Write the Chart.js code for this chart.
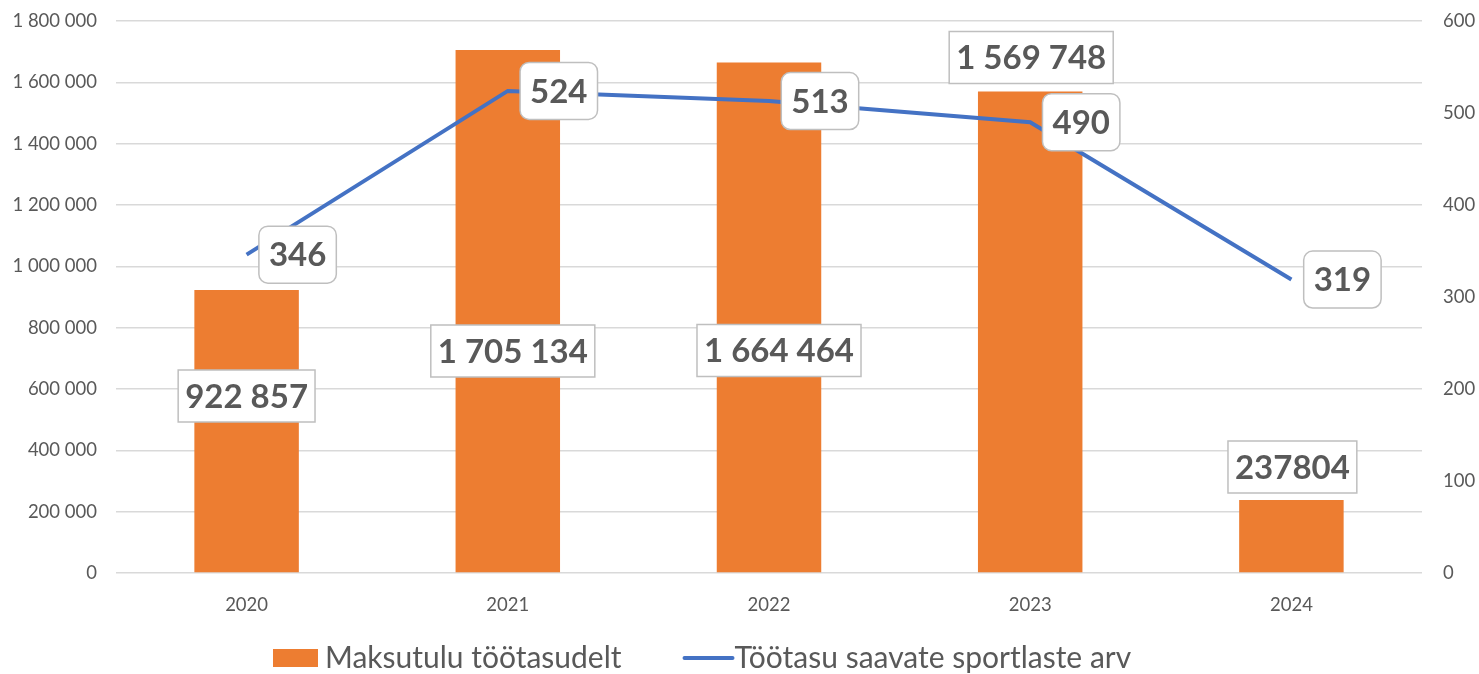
<!DOCTYPE html>
<html>
<head>
<meta charset="utf-8">
<script src="https://cdn.jsdelivr.net/npm/chart.js@4"></script>
<style>
  html, body { margin: 0; padding: 0; background: #fff; }
  #wrap { width: 1479px; height: 674px; }
</style>
</head>
<body>
<div id="wrap"><canvas id="myChart"></canvas></div>
<script>
var years = ['2020', '2021', '2022', '2023', '2024'];
var taxIncome = [922857, 1705134, 1664464, 1569748, 237804];
var athletes = [346, 524, 513, 490, 319];
var taxLabels = ['922 857', '1 705 134', '1 664 464', '1 569 748', '237804'];
var leftTicks = [0, 200000, 400000, 600000, 800000, 1000000, 1200000, 1400000, 1600000, 1800000];
var rightTicks = [0, 100, 200, 300, 400, 500, 600];

var FONT = 'Lato, "Open Sans", sans-serif';
var GREY = '#595959';

function spaced(v) {
    return String(v).replace(/\B(?=(\d{3})+(?!\d))/g, ' ');
}

// box offsets for bar labels (moved by hand in the original)
var barLabelShift = [[0, 106], [5, 301], [10, 288], [1, -34], [1, -33]];

function drawBox(ctx, cx, cy, text, radius, padX, h) {
    ctx.font = 'bold 33px ' + FONT;
    var w = ctx.measureText(text).width + padX * 2;
    var x = cx - w / 2, y = cy - h / 2;
    ctx.fillStyle = '#fff';
    ctx.strokeStyle = '#BFBFBF';
    ctx.lineWidth = 1.5;
    ctx.beginPath();
    ctx.roundRect(x, y, w, h, radius);
    ctx.fill();
    ctx.stroke();
    ctx.fillStyle = GREY;
    ctx.textAlign = 'center';
    ctx.textBaseline = 'middle';
    ctx.fillText(text, cx, cy + 1);
}

var labelPlugin = {
    id: 'boxLabels',
    afterDatasetsDraw: function(chart) {
        var ctx = chart.ctx;
        ctx.save();
        var bars = chart.getDatasetMeta(1).data;
        bars.forEach(function(bar, i) {
            drawBox(ctx, bar.x + barLabelShift[i][0], bar.y + barLabelShift[i][1], taxLabels[i], 0, 7, 52);
        });
        var pts = chart.getDatasetMeta(0).data;
        pts.forEach(function(p, i) {
            drawBox(ctx, p.x + 51, p.y, String(athletes[i]), 9, 10, 57);
        });
        ctx.restore();
    },
    afterDraw: function(chart) {
        var ctx = chart.ctx;
        ctx.save();
        var y = 658;
        ctx.font = '30px ' + FONT;
        ctx.textBaseline = 'middle';
        ctx.textAlign = 'left';
        var x = 273;
        ctx.fillStyle = '#ED7D31';
        ctx.fillRect(x, y - 9, 45, 18);
        ctx.fillStyle = GREY;
        var t1 = chart.data.datasets[1].label;
        ctx.fillText(t1, x + 52, y);
        x = x + 52 + ctx.measureText(t1).width + 63;
        ctx.strokeStyle = '#4472C4';
        ctx.lineWidth = 4;
        ctx.lineCap = 'round';
        ctx.beginPath();
        ctx.moveTo(x, y);
        ctx.lineTo(x + 48, y);
        ctx.stroke();
        ctx.fillText(chart.data.datasets[0].label, x + 50, y);
        ctx.restore();
    }
};

function fitSide(width) {
    return function(s) {
        s.width = width;
        s.paddingTop = 0;
        s.paddingBottom = 0;
    };
}

var ctx = document.getElementById('myChart').getContext('2d');

var myChart = new Chart(ctx, {
    type: 'bar',
    data: {
        labels: years,
        datasets: [{
            type: 'line',
            label: 'Töötasu saavate sportlaste arv',
            data: athletes,
            yAxisID: 'y1',
            borderColor: '#4472C4',
            backgroundColor: '#4472C4',
            borderWidth: 4,
            pointRadius: 0,
            tension: 0,
            order: 0
        }, {
            label: 'Maksutulu töötasudelt',
            data: taxIncome,
            yAxisID: 'y',
            backgroundColor: '#ED7D31',
            barPercentage: 0.4,
            categoryPercentage: 1,
            order: 1
        }]
    },
    options: {
        responsive: true,
        maintainAspectRatio: false,
        animation: false,
        layout: { padding: { top: 21, right: 0, bottom: 0, left: 0 } },
        scales: {
            x: {
                grid: { display: false },
                border: { display: false },
                ticks: { color: GREY, font: { family: FONT, size: 18.5 }, padding: 13 },
                afterFit: function(s) { s.height = 101; s.paddingLeft = 0; s.paddingRight = 0; }
            },
            y: {
                position: 'left',
                min: 0,
                max: 1800000,
                afterBuildTicks: function(s) { s.ticks = leftTicks.map(function(v) { return { value: v }; }); },
                ticks: {
                    color: GREY,
                    font: { family: FONT, size: 18.5 },
                    padding: 19,
                    callback: function(v) { return spaced(v); }
                },
                grid: { color: '#D9D9D9', lineWidth: 1.5, drawTicks: false },
                border: { display: false },
                afterFit: fitSide(116)
            },
            y1: {
                position: 'right',
                min: 0,
                max: 600,
                afterBuildTicks: function(s) { s.ticks = rightTicks.map(function(v) { return { value: v }; }); },
                ticks: { color: GREY, font: { family: FONT, size: 18.5 }, padding: 21 },
                grid: { display: false, drawTicks: false },
                border: { display: false },
                afterFit: fitSide(57)
            }
        },
        plugins: {
            legend: { display: false },
            tooltip: { enabled: false }
        }
    },
    plugins: [labelPlugin]
});
</script>
</body>
</html>
